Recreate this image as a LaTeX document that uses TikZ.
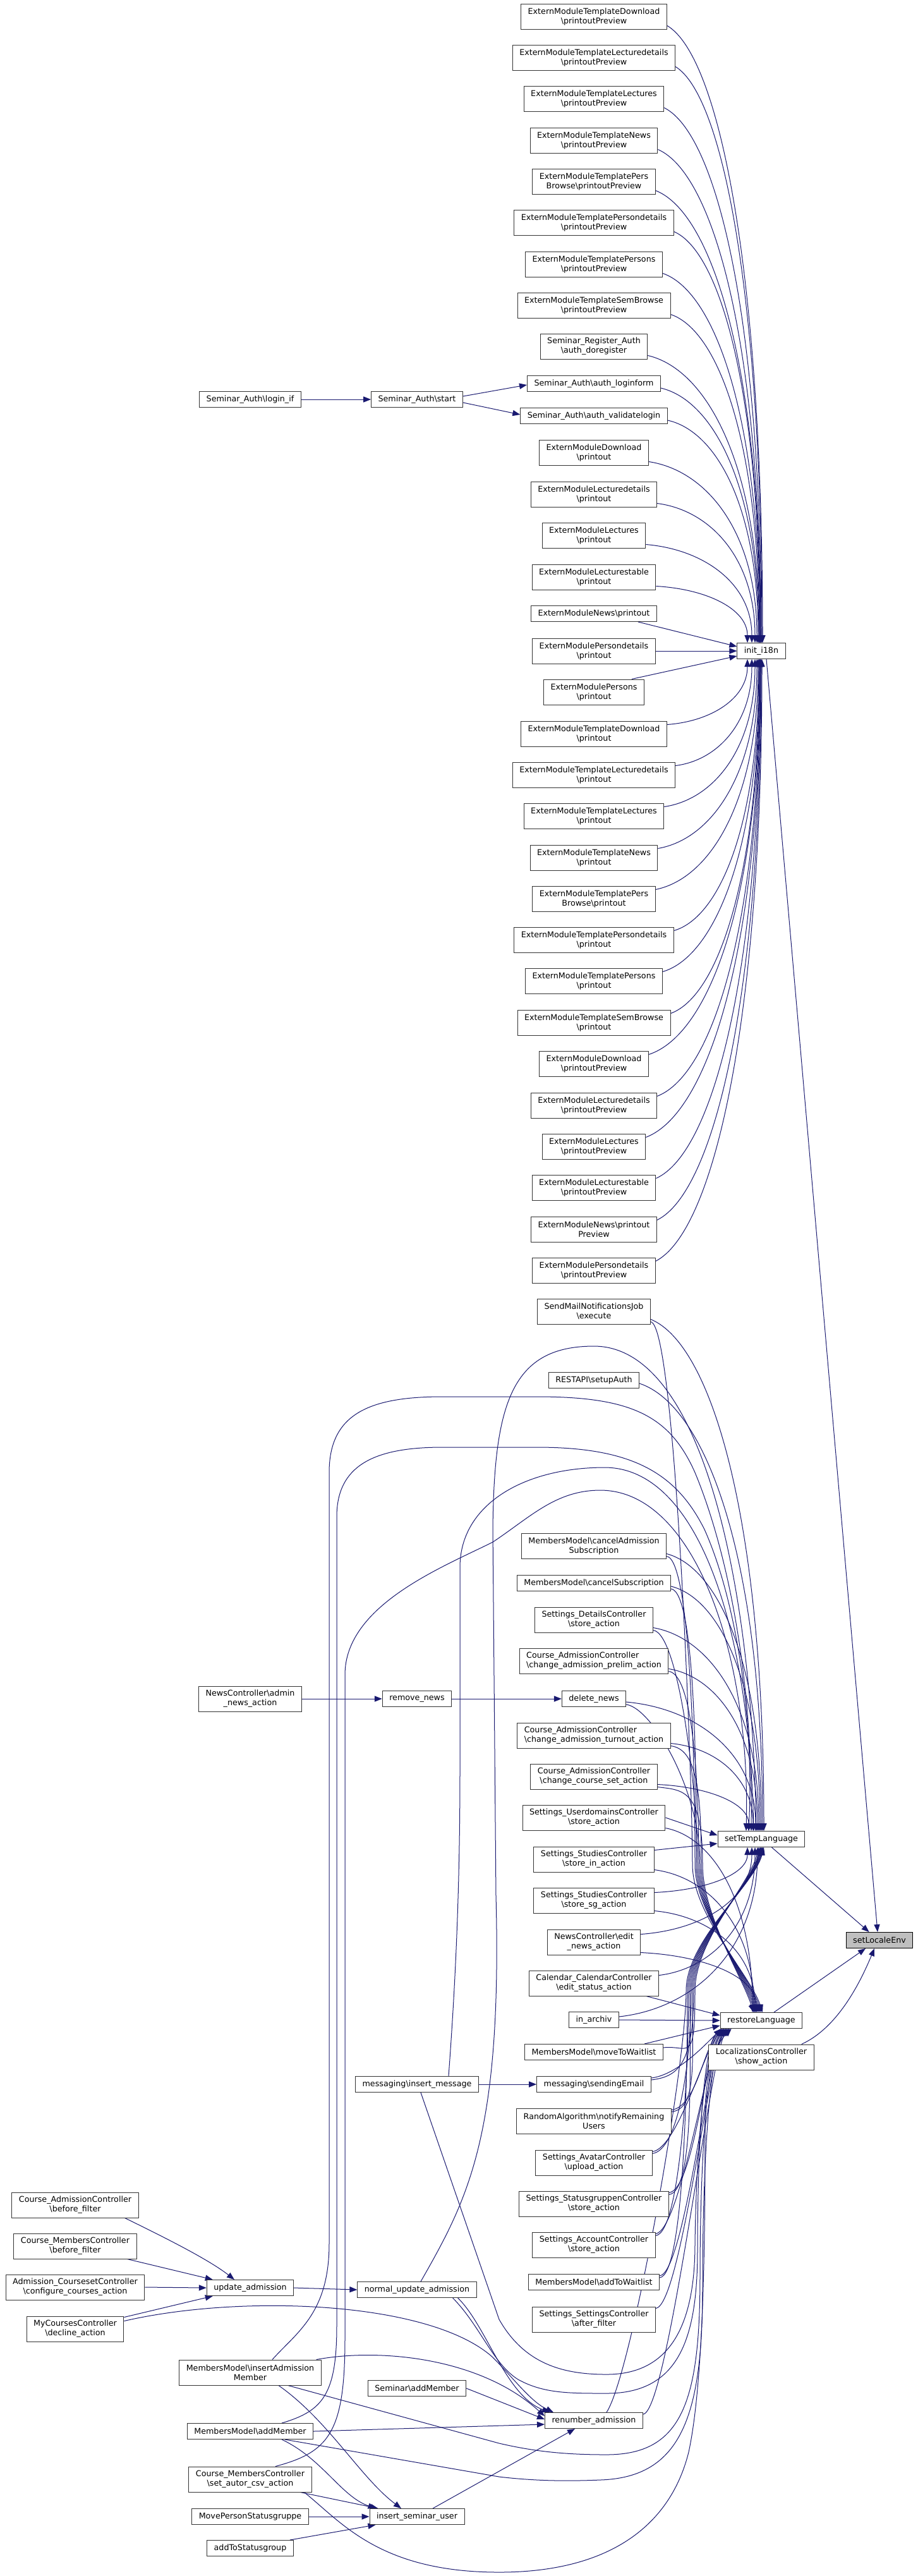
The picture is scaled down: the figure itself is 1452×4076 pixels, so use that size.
\documentclass[tikz,border=0pt]{standalone}
\usepackage{fontspec}
\setmainfont{DejaVu Sans}
\usetikzlibrary{arrows.meta,calc}
\pgfdeclarelayer{bg}
\pgfsetlayers{bg,main}
\definecolor{edgecol}{RGB}{25,25,112}
\newcommand\bsl{\textbackslash}
% generic curve
\newcommand\cv[2]{\draw[edge] let \p1=(#1), \p2=(#2) in (\p1) .. controls ({\x1+0.55*(\x2-\x1)},{\y1+0.05*(\y2-\y1)}) and ({\x2},{\y1+0.4*(\y2-\y1)}) .. (\p2);}
\newcommand\ea[2]{\cv{$(#1.south east)+(0,-6)$}{$(init.north)+(#2,0)$}}
\newcommand\eb[2]{\cv{$(#1.north east)+(0,6)$}{$(init.south)+(#2,0)$}}
\newcommand\ta[2]{\cv{$(#1.south east)+(0,-8)$}{$(settemp.north)+(#2,0)$}}
\newcommand\tb[2]{\cv{$(#1.north east)+(0,8)$}{$(settemp.south)+(#2,0)$}}
\newcommand\rn[2]{\cv{$(#1.south east)+(0,-4)$}{$(restore.north)+(#2,0)$}}
\newcommand\byr[3]{\draw[edge] ($(#1.south east)+(0,-4)$) .. controls +(40,5) and +(0,-120) .. (#2,2950) .. controls +(0,80) and +(-20,-60) .. ($(restore.north)+(#3,0)$);}
\newcommand\byt[3]{\draw[edge] ($(#1.north east)+(0,6)$) .. controls +(40,-5) and +(0,120) .. (#2,3150) .. controls +(0,-80) and +(-15,60) .. ($(settemp.south)+(#3,0)$);}
\newcommand\rl[2]{\draw[edge] ($(#1.north east)+(0,3)$) .. controls +(40,-5) and +(-30,30) .. ($(restore.south west)+(#2,0)$);}
\begin{document}
\begin{tikzpicture}[x=0.5pt,y=-0.5pt,
  box/.style={draw=black!80, line width=0.5pt, fill=white, align=center, inner xsep=5.5pt, inner ysep=0pt, minimum height=12.5pt, font=\fontsize{6.35}{7.5}\selectfont},
  bx2/.style={box, minimum height=20pt},
  edge/.style={draw=edgecol, line width=0.5pt, -{Triangle[length=6pt,width=4.6pt]}}
]
\useasboundingbox (0,0) rectangle (1452,4076);
% column 940: init callers
\node[bx2] (e1) at (940,26) {ExternModuleTemplateDownload\\\bsl printoutPreview};
\node[bx2] (e2) at (940,91) {ExternModuleTemplateLecturedetails\\\bsl printoutPreview};
\node[bx2] (e3) at (940,156) {ExternModuleTemplateLectures\\\bsl printoutPreview};
\node[bx2] (e4) at (940,222) {ExternModuleTemplateNews\\\bsl printoutPreview};
\node[bx2] (e5) at (940,287) {ExternModuleTemplatePers\\Browse\bsl printoutPreview};
\node[bx2] (e6) at (940,352) {ExternModuleTemplatePersondetails\\\bsl printoutPreview};
\node[bx2] (e7) at (940,418) {ExternModuleTemplatePersons\\\bsl printoutPreview};
\node[bx2] (e8) at (940,483) {ExternModuleTemplateSemBrowse\\\bsl printoutPreview};
\node[bx2] (e9) at (940,548) {Seminar\_Register\_Auth\\\bsl auth\_doregister};
\node[box] (e10) at (940,607) {Seminar\_Auth\bsl auth\_loginform};
\node[box] (e11) at (940,658) {Seminar\_Auth\bsl auth\_validatelogin};
\node[bx2] (e12) at (940,716) {ExternModuleDownload\\\bsl printout};
\node[bx2] (e13) at (940,782) {ExternModuleLecturedetails\\\bsl printout};
\node[bx2] (e14) at (940,847) {ExternModuleLectures\\\bsl printout};
\node[bx2] (e15) at (940,913) {ExternModuleLecturestable\\\bsl printout};
\node[box] (e16) at (940,971) {ExternModuleNews\bsl printout};
\node[bx2] (e17) at (940,1030) {ExternModulePersondetails\\\bsl printout};
\node[bx2] (e18) at (940,1095) {ExternModulePersons\\\bsl printout};
\node[bx2] (e19) at (940,1161) {ExternModuleTemplateDownload\\\bsl printout};
\node[bx2] (e20) at (940,1226) {ExternModuleTemplateLecturedetails\\\bsl printout};
\node[bx2] (e21) at (940,1291) {ExternModuleTemplateLectures\\\bsl printout};
\node[bx2] (e22) at (940,1357) {ExternModuleTemplateNews\\\bsl printout};
\node[bx2] (e23) at (940,1422) {ExternModuleTemplatePers\\Browse\bsl printout};
\node[bx2] (e24) at (940,1487) {ExternModuleTemplatePersondetails\\\bsl printout};
\node[bx2] (e25) at (940,1552) {ExternModuleTemplatePersons\\\bsl printout};
\node[bx2] (e26) at (940,1618) {ExternModuleTemplateSemBrowse\\\bsl printout};
\node[bx2] (e27) at (940,1683) {ExternModuleDownload\\\bsl printoutPreview};
\node[bx2] (e28) at (940,1749) {ExternModuleLecturedetails\\\bsl printoutPreview};
\node[bx2] (e29) at (940,1814) {ExternModuleLectures\\\bsl printoutPreview};
\node[bx2] (e30) at (940,1879) {ExternModuleLecturestable\\\bsl printoutPreview};
\node[bx2] (e31) at (940,1945) {ExternModuleNews\bsl printout\\Preview};
\node[bx2] (e32) at (940,2010) {ExternModulePersondetails\\\bsl printoutPreview};
% column 940: language callers
\node[bx2] (s1) at (940,2075) {SendMailNotificationsJob\\\bsl execute};
\node[box] (s2) at (940,2184) {RESTAPI\bsl setupAuth};
\node[bx2] (s3) at (940,2446) {MembersModel\bsl cancelAdmission\\Subscription};
\node[box] (s4) at (940,2505) {MembersModel\bsl cancelSubscription};
\node[bx2] (s5) at (940,2563) {Settings\_DetailsController\\\bsl store\_action};
\node[bx2, align=left] (s6) at (940,2628) {Course\_AdmissionController\\\bsl change\_admission\_prelim\_action};
\node[box] (s7) at (940,2688) {delete\_news};
\node[bx2, align=left] (s8) at (940,2746) {Course\_AdmissionController\\\bsl change\_admission\_turnout\_action};
\node[bx2] (s9) at (940,2811) {Course\_AdmissionController\\\bsl change\_course\_set\_action};
\node[bx2] (s10) at (940,2876) {Settings\_UserdomainsController\\\bsl store\_action};
\node[bx2] (s11) at (940,2942) {Settings\_StudiesController\\\bsl store\_in\_action};
\node[bx2] (s12) at (940,3007) {Settings\_StudiesController\\\bsl store\_sg\_action};
\node[bx2] (s13) at (940,3073) {NewsController\bsl edit\\\_news\_action};
\node[bx2] (s14) at (940,3138) {Calendar\_CalendarController\\\bsl edit\_status\_action};
\node[box] (s15) at (940,3196) {in\_archiv};
\node[box] (s16) at (940,3247) {MembersModel\bsl moveToWaitlist};
\node[box] (s17) at (940,3298) {messaging\bsl sendingEmail};
\node[bx2] (s18) at (940,3356) {RandomAlgorithm\bsl notifyRemaining\\Users};
\node[bx2] (s19) at (940,3422) {Settings\_AvatarController\\\bsl upload\_action};
\node[bx2] (s20) at (940,3487) {Settings\_StatusgruppenController\\\bsl store\_action};
\node[bx2] (s21) at (940,3552) {Settings\_AccountController\\\bsl store\_action};
\node[box] (s22) at (940,3611) {MembersModel\bsl addToWaitlist};
\node[bx2] (s23) at (940,3670) {Settings\_SettingsController\\\bsl after\_filter};
\node[box] (s24) at (940,3830) {renumber\_admission};
% column 1205 / 1392
\node[box] (init) at (1205,1030) {init\_i18n};
\node[box] (settemp) at (1205,2910) {setTempLanguage};
\node[box] (restore) at (1205,3197) {restoreLanguage};
\node[bx2] (showact) at (1205,3255) {LocalizationsController\\\bsl show\_action};
\node[box, draw=black, fill=black!25] (setlocale) at (1392,3070) {setLocaleEnv};
% column 660
\node[box] (start) at (660,632) {Seminar\_Auth\bsl start};
\node[box] (removenews) at (660,2688) {remove\_news};
\node[box] (insertmsg) at (660,3298) {messaging\bsl insert\_message};
\node[box] (normupd) at (660,3623) {normal\_update\_admission};
\node[box] (semadd) at (660,3779) {Seminar\bsl addMember};
\node[box] (insertsem) at (660,3982) {insert\_seminar\_user};
% column 396
\node[box] (loginif) at (396,632) {Seminar\_Auth\bsl login\_if};
\node[bx2] (adminnews) at (396,2688) {NewsController\bsl admin\\\_news\_action};
\node[box] (updadm) at (396,3620) {update\_admission};
\node[bx2] (insadm) at (396,3754) {MembersModel\bsl insertAdmission\\Member};
\node[box] (addmem) at (396,3847) {MembersModel\bsl addMember};
\node[bx2] (setautor) at (396,3923) {Course\_MembersController\\\bsl set\_autor\_csv\_action};
\node[box] (moveps) at (396,3982) {MovePersonStatusgruppe};
\node[box] (addsg) at (396,4032) {addToStatusgroup};
% column 119
\node[bx2] (cabf) at (119,3489) {Course\_AdmissionController\\\bsl before\_filter};
\node[bx2] (cmbf) at (119,3554) {Course\_MembersController\\\bsl before\_filter};
\node[bx2] (acc) at (119,3619) {Admission\_CoursesetController\\\bsl configure\_courses\_action};
\node[bx2] (mcd) at (119,3685) {MyCoursesController\\\bsl decline\_action};

\begin{pgfonlayer}{bg}
\fill[white] (0,0) rectangle (1452,4076);
% ---- into init_i18n
\ea{e1}{2}\ea{e2}{1}\ea{e3}{0}\ea{e4}{-1}\ea{e5}{-1}\ea{e6}{-2}\ea{e7}{-2}\ea{e8}{-3}
\ea{e9}{-3}\ea{e10}{-4}\ea{e11}{-5}\ea{e12}{-7}\ea{e13}{-10}\ea{e14}{-15}\ea{e15}{-22}
\draw[edge] ($(e16.south east)+(-30,0)$) -- ($(init.west)+(0,-7)$);
\draw[edge] (e17.east) -- (init.west);
\draw[edge] ($(e18.north east)+(-20,0)$) -- ($(init.west)+(0,8)$);
\eb{e19}{-22}\eb{e20}{-15}\eb{e21}{-10}\eb{e22}{-7}\eb{e23}{-5}\eb{e24}{-4}\eb{e25}{-3}
\eb{e26}{-3}\eb{e27}{-2}\eb{e28}{-2}\eb{e29}{-1}\eb{e30}{-1}\eb{e31}{0}\eb{e32}{1}
% ---- Seminar_Auth
\draw[edge] (loginif.east) -- (start.west);
\draw[edge] ($(start.east)+(0,-5)$) -- ($(e10.west)+(0,2)$);
\draw[edge] ($(start.east)+(0,5)$) -- ($(e11.west)+(0,-2)$);
% ---- into setLocaleEnv
\draw[edge] ($(init.south)+(8,0)$) -- ($(setlocale.north)+(-3,0)$);
\draw[edge] ($(settemp.south east)+(-53,0)$) -- ($(setlocale.north west)+(37,0)$);
\draw[edge] ($(restore.north)+(20,0)$) -- ($(setlocale.south)+(-22,0)$);
\draw[edge] ($(showact.north east)+(-20,0)$) .. controls +(55,-25) and +(-25,60) .. ($(setlocale.south)+(-8,0)$);
% ---- column 940 into setTempLanguage / restoreLanguage
\ta{s1}{4}\byr{s1}{1096}{2}
\ta{s2}{2}
\ta{s3}{0}\byr{s3}{1100}{0}
\ta{s4}{-2}\byr{s4}{1102}{-2}
\ta{s5}{-4}\byr{s5}{1104}{-4}
\ta{s6}{-6}\byr{s6}{1106}{-6}
\ta{s7}{-9}\byr{s7}{1108}{-8}
\ta{s8}{-13}\byr{s8}{1110}{-10}
\ta{s9}{-20}\byr{s9}{1112}{-12}
\draw[edge] (s10.east) -- ($(settemp.west)+(0,-6)$);\rn{s10}{-14}
\draw[edge] ($(s11.north east)+(0,6)$) -- ($(settemp.west)+(0,7)$);\rn{s11}{-12}
\tb{s12}{-22}\rn{s12}{-10}
\tb{s13}{-15}\rn{s13}{-8}
\tb{s14}{-10}
\draw[edge] ($(s14.south east)+(-20,0)$) -- ($(restore.west)+(0,-8)$);
\tb{s15}{-6}
\draw[edge] (s15.east) -- (restore.west);
\byt{s16}{1100}{-4}
\draw[edge] ($(s16.north east)+(-30,0)$) -- ($(restore.west)+(0,8)$);
\byt{s17}{1098}{-2}\rl{s17}{2}
\byt{s18}{1096}{-1}\rl{s18}{4}
\byt{s19}{1094}{0}\rl{s19}{6}
\byt{s20}{1092}{1}\rl{s20}{8}
\byt{s21}{1090}{2}\rl{s21}{10}
\byt{s22}{1088}{3}\rl{s22}{12}
\rl{s23}{14}
\draw[edge] ($(s24.north)+(20,0)$) .. controls +(40,-60) and +(0,120) .. (1086,3150) .. controls +(0,-80) and +(-15,60) .. ($(settemp.south)+(4,0)$);
\rl{s24}{16}
% ---- news
\draw[edge] (adminnews.east) -- (removenews.west);
\draw[edge] (removenews.east) -- (s7.west);
% ---- messaging
\draw[edge] (insertmsg.east) -- (s17.west);
% ---- long edges up to setTempLanguage
\draw[edge] ($(normupd.north)+(6,0)$) .. controls (740,3480) and (795,3380) .. (785,3000) -- (780,2420) .. controls (782,2220) and (810,2130) .. (940,2130) .. controls (1110,2130) and (1190,2500) .. ($(settemp.north)+(-8,0)$);
\draw[edge] ($(insertmsg.north)+(50,0)$) .. controls (720,3150) and (728,3000) .. (728,2800) -- (728,2480) .. controls (728,2380) and (830,2322) .. (957,2322) .. controls (1100,2322) and (1185,2560) .. ($(settemp.north)+(-12,0)$);
\draw[edge] ($(insadm.north)+(35,0)$) .. controls (470,3690) and (521,3660) .. (521,3550) -- (521,2330) .. controls (521,2240) and (580,2210) .. (700,2210) -- (850,2210) .. controls (1000,2210) and (1060,2240) .. (1100,2330) .. controls (1150,2450) and (1192,2650) .. ($(settemp.north)+(-16,0)$);
\draw[edge] ($(addmem.north)+(50,0)$) .. controls (510,3815) and (533,3790) .. (533,3680) -- (533,2400) .. controls (533,2320) and (590,2290) .. (700,2290) -- (850,2290) .. controls (1000,2290) and (1070,2330) .. (1115,2420) .. controls (1160,2520) and (1194,2700) .. ($(settemp.north)+(-20,0)$);
\draw[edge] ($(setautor.north)+(40,0)$) .. controls (520,3880) and (546,3850) .. (546,3700) -- (546,2650) .. controls (546,2540) and (700,2480) .. (780,2440) .. controls (840,2400) and (880,2358) .. (950,2358) .. controls (1100,2358) and (1188,2620) .. ($(settemp.north)+(-24,0)$);
% ---- loops below into restoreLanguage
\draw[edge] ($(insertmsg.south)+(6,0)$) -- (790,3670) .. controls (830,3740) and (890,3757) .. (960,3757) .. controls (1060,3757) and (1100,3680) .. (1100,3550) .. controls (1102,3400) and +(-30,30) .. ($(restore.south west)+(6,0)$);
\draw[edge] ($(normupd.south east)+(-38,0)$) .. controls (760,3680) and (780,3740) .. (820,3765) .. controls (860,3787) and (900,3787) .. (960,3787) .. controls (1075,3787) and (1104,3700) .. (1104,3560) .. controls (1104,3420) and +(-30,30) .. ($(restore.south west)+(2,0)$);
\draw[edge] ($(insadm.south)+(60,0)$) -- (790,3866) .. controls (850,3880) and (900,3884) .. (960,3884) .. controls (1080,3884) and (1108,3800) .. (1108,3600) .. controls (1108,3420) and +(-30,30) .. ($(restore.south west)+(10,0)$);
\draw[edge] ($(addmem.south)+(55,0)$) -- (790,3919) .. controls (850,3926) and (900,3926) .. (950,3924) .. controls (1080,3920) and (1112,3820) .. (1112,3620) .. controls (1112,3420) and +(-30,30) .. ($(restore.south west)+(14,0)$);
\draw[edge] ($(setautor.south east)+(-12,0)$) .. controls (540,3990) and (600,4070) .. (790,4070) .. controls (960,4070) and (1060,4000) .. (1090,3880) .. controls (1116,3760) and (1116,3500) .. (1116,3350) .. controls (1116,3290) and +(-30,30) .. ($(restore.south west)+(18,0)$);
% ---- into renumber_admission
\draw[edge] ($(normupd.south east)+(-30,0)$) .. controls (770,3680) and (800,3790) .. ($(s24.north west)+(8,0)$);
\draw[edge] ($(insadm.north east)+(-8,0)$) .. controls (600,3715) and (760,3730) .. ($(s24.west)+(0,-7)$);
\draw[edge] (semadd.east) -- ($(s24.west)+(0,-2)$);
\draw[edge] (addmem.east) -- ($(s24.west)+(0,6)$);
\draw[edge] ($(mcd.north east)+(0,8)$) .. controls (380,3630) and (680,3640) .. (780,3730) .. controls (810,3760) and (840,3800) .. ($(s24.north west)+(14,0)$);
\draw[edge] ($(insertsem.north)+(25,0)$) -- ($(s24.south)+(-30,0)$);
% ---- into insert_seminar_user
\draw[edge] ($(insadm.south)+(45,0)$) .. controls (520,3830) and (570,3920) .. ($(insertsem.north)+(-25,0)$);
\draw[edge] ($(addmem.south)+(50,0)$) .. controls (510,3890) and (540,3950) .. ($(insertsem.north west)+(10,0)$);
\draw[edge] ($(setautor.south east)+(-18,0)$) -- ($(insertsem.north west)+(14,0)$);
\draw[edge] (moveps.east) -- (insertsem.west);
\draw[edge] ($(addsg.north east)+(-6,0)$) -- ($(insertsem.south west)+(10,0)$);
% ---- into update_admission
\draw[edge] ($(cabf.south east)+(-22,0)$) .. controls (260,3540) and (330,3575) .. ($(updadm.north)+(-25,0)$);
\draw[edge] ($(cmbf.south east)+(-15,0)$) -- ($(updadm.north west)+(10,0)$);
\draw[edge] (acc.east) -- (updadm.west);
\draw[edge] ($(mcd.north east)+(0,2)$) -- ($(updadm.south west)+(10,0)$);
\draw[edge] (updadm.east) -- (normupd.west);
\end{pgfonlayer}
\end{tikzpicture}
\end{document}
